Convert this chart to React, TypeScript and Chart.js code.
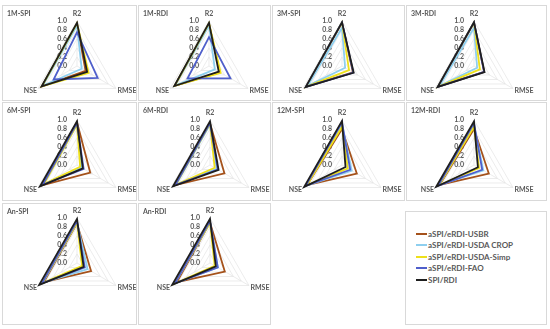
import React, { useEffect, useRef } from 'react';
import { Chart, registerables } from 'chart.js';

Chart.register(...registerables);

// ---------- data ----------
const AXES = ['R2', 'RMSE', 'NSE'];
const SERIES_NAMES = ['aSPI/eRDI-USBR', 'aSPI/eRDI-USDA CROP', 'aSPI/eRDI-USDA-Simp', 'aSPI/eRDI-FAO', 'SPI/RDI'];
const TICK_VALUES = [0, 0.2, 0.4, 0.6, 0.8, 1.0];
const PANEL_TITLES = ['1M-SPI', '1M-RDI', '3M-SPI', '3M-RDI', '6M-SPI', '6M-RDI', '12M-SPI', '12M-RDI', 'An-SPI', 'An-RDI'];

// each row: one series, values for [R2, RMSE, NSE]
const V_1M_SPI = [[0.93, 0.22, 0.9], [0.9, 0.12, 0.88], [0.95, 0.3, 0.9], [0.75, 0.53, 0.6], [0.96, 0.26, 0.91]];
const V_1M_RDI = [[0.93, 0.28, 0.88], [0.9, 0.15, 0.87], [0.95, 0.3, 0.88], [0.64, 0.55, 0.55], [0.96, 0.25, 0.89]];
const V_3M_SPI = [[0.96, 0.28, 0.92], [0.85, 0.08, 0.88], [0.97, 0.18, 0.93], [0.97, 0.29, 0.93], [0.97, 0.3, 0.93]];
const V_3M_RDI = [[0.96, 0.26, 0.92], [0.85, 0.08, 0.88], [0.97, 0.15, 0.93], [0.97, 0.26, 0.93], [0.97, 0.27, 0.93]];
const V_6M_SPI = [[0.95, 0.34, 0.9], [0.9, 0.12, 0.86], [0.9, 0.08, 0.85], [0.93, 0.17, 0.88], [0.97, 0.15, 0.95]];
const V_6M_RDI = [[0.93, 0.37, 0.9], [0.9, 0.17, 0.87], [0.92, 0.12, 0.88], [0.93, 0.2, 0.89], [0.97, 0.22, 0.95]];
const V_12M_SPI = [[0.8, 0.38, 0.9], [0.9, 0.25, 0.92], [0.85, 0.15, 0.9], [0.95, 0.21, 0.93], [0.98, 0.09, 0.97]];
const V_12M_RDI = [[0.8, 0.38, 0.88], [0.88, 0.24, 0.9], [0.85, 0.13, 0.9], [0.93, 0.21, 0.92], [0.97, 0.1, 0.97]];
const V_AN_SPI = [[0.88, 0.36, 0.85], [0.9, 0.27, 0.88], [0.9, 0.13, 0.9], [0.93, 0.2, 0.9], [0.98, 0.17, 0.97]];
const V_AN_RDI = [[0.9, 0.38, 0.85], [0.9, 0.2, 0.9], [0.9, 0.12, 0.92], [0.93, 0.2, 0.9], [0.98, 0.15, 0.97]];

const PANEL_VALUES = [V_1M_SPI, V_1M_RDI, V_3M_SPI, V_3M_RDI, V_6M_SPI, V_6M_RDI, V_12M_SPI, V_12M_RDI, V_AN_SPI, V_AN_RDI];

// ---------- styles / layout ----------
const SERIES_COLORS = ['#A5521B', '#8ECFEF', '#EEE01A', '#4F5FCB', '#1E1E1E'];
const FONT = 'Lato, "Open Sans", sans-serif';
const TEXT_COLOR = '#595959';
const GRID_COLOR = '#E4E4E4';
const BORDER_COLOR = '#D9D9D9';

const COLS = [
  { left: 2, w: 135 },
  { left: 138, w: 133 },
  { left: 272, w: 133 },
  { left: 406, w: 141 },
];
const ROWS = [
  { top: 5, h: 96 },
  { top: 102, h: 99 },
  { top: 203, h: 122 },
];
const CENTER_X = [[77, 209, 342, 474], [77, 210, 342, 474], [77, 210]];
const CENTER_Y = [66, 165, 263];
const RADIUS = 45;

const textPlugin = {
  id: 'panelText',
  afterDraw(chart: any, _args: any, opts: any) {
    const { ctx } = chart;
    const s = chart.scales.r;
    ctx.save();
    ctx.font = `bold 7px ${FONT}`;
    ctx.fillStyle = TEXT_COLOR;
    ctx.textBaseline = 'middle';
    ctx.textAlign = 'left';
    ctx.fillText(opts.title, opts.tx, opts.ty);
    chart.data.labels.forEach((lab: string, i: number) => {
      const p = s.getPointPosition(i, s.drawingArea);
      if (i === 0) {
        ctx.textAlign = 'center';
        ctx.fillText(lab, p.x, p.y - 7);
      } else if (i === 1) {
        ctx.textAlign = 'left';
        ctx.fillText(lab, p.x + 1.5, p.y + 2);
      } else {
        ctx.textAlign = 'right';
        ctx.fillText(lab, p.x - 1, p.y + 2);
      }
    });
    ctx.restore();
  },
};

function RadarPanel({ idx }: { idx: number }) {
  const ref = useRef<HTMLCanvasElement>(null);
  const r = Math.floor(idx / 4);
  const c = idx % 4;
  const col = COLS[c];
  const row = ROWS[r];
  const cxRel = CENTER_X[r][c] - col.left;
  const cyRel = CENTER_Y[r] - row.top;
  const W = col.w;
  const H = cyRel + 60;
  const side = 2 * RADIUS + 7;
  const padLeft = cxRel - (RADIUS + 3);
  const padTop = cyRel - (RADIUS + 3);

  useEffect(() => {
    if (!ref.current) return;
    const values = PANEL_VALUES[idx];
    const chart = new Chart(ref.current, {
      type: 'radar',
      data: {
        labels: AXES,
        datasets: SERIES_NAMES.map((name, i) => ({
          label: name,
          data: values[i],
          borderColor: SERIES_COLORS[i],
          backgroundColor: 'transparent',
          borderWidth: 1.8,
          pointRadius: 0,
          fill: false,
          order: SERIES_NAMES.length - 1 - i,
        })),
      },
      options: {
        responsive: false,
        animation: false,
        devicePixelRatio: 1,
        layout: {
          padding: { left: padLeft, top: padTop, right: W - padLeft - side, bottom: H - padTop - side },
        },
        plugins: {
          legend: { display: false },
          tooltip: { enabled: false },
          panelText: { title: PANEL_TITLES[idx], tx: 5, ty: 9 },
        } as any,
        elements: { line: { tension: 0 } },
        scales: {
          r: {
            min: -1e-9,
            max: 1,
            afterBuildTicks: (s: any) => {
              s.ticks = TICK_VALUES.map((v) => ({ value: v }));
            },
            ticks: {
              callback: (v: any) => Number(v).toFixed(1) + '\u2003\u2003\u2003\u2003\u2003\u2002',
              font: { family: FONT, size: 7, weight: 'bold' },
              color: TEXT_COLOR,
              showLabelBackdrop: false,
              backdropPadding: 0,
            },
            grid: { color: GRID_COLOR, lineWidth: 0.7 },
            angleLines: { color: GRID_COLOR, lineWidth: 0.7 },
            pointLabels: { display: false },
          },
        } as any,
      },
      plugins: [textPlugin],
    } as any);
    return () => chart.destroy();
  }, [idx]);

  return (
    <div
      style={{
        position: 'absolute',
        left: col.left,
        top: row.top,
        width: W,
        height: row.h,
        border: `1px solid ${BORDER_COLOR}`,
        boxSizing: 'border-box',
        overflow: 'hidden',
      }}
    >
      <canvas ref={ref} width={W} height={H} style={{ position: 'absolute', left: -1, top: -1, width: W, height: H }} />
    </div>
  );
}

function Legend() {
  return (
    <div
      style={{
        position: 'absolute',
        left: 405,
        top: 211,
        width: 142,
        height: 114,
        border: `1px solid ${BORDER_COLOR}`,
        boxSizing: 'border-box',
      }}
    >
      {SERIES_NAMES.map((name, i) => (
        <div
          key={name}
          style={{
            position: 'absolute',
            left: 10,
            top: 16 + i * 11.5,
            height: 11,
            display: 'flex',
            alignItems: 'center',
            fontFamily: FONT,
            fontWeight: 'bold',
            fontSize: 8,
            color: TEXT_COLOR,
            whiteSpace: 'nowrap',
          }}
        >
          <span style={{ display: 'inline-block', width: 11, height: 2, background: SERIES_COLORS[i], marginRight: 1 }} />
          {name}
        </div>
      ))}
    </div>
  );
}

export default function App() {
  return (
    <div style={{ position: 'absolute', left: 0, top: 0, width: 550, height: 329, background: '#fff', overflow: 'hidden' }}>
      {PANEL_TITLES.map((_, i) => (
        <RadarPanel key={i} idx={i} />
      ))}
      <Legend />
    </div>
  );
}
